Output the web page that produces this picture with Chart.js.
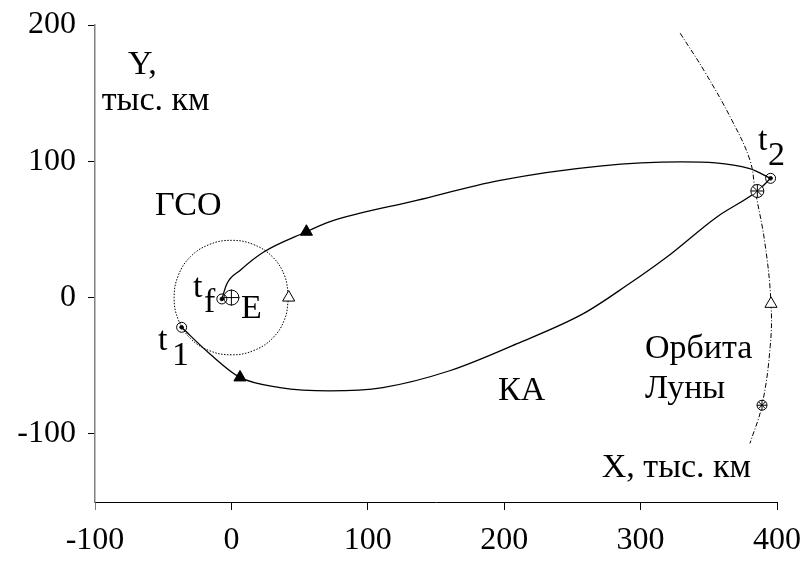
<!DOCTYPE html>
<html><head><meta charset="utf-8">
<script src="https://cdn.jsdelivr.net/npm/chart.js@4/dist/chart.umd.min.js"></script>
<style>html,body{margin:0;padding:0;background:#fff}#wrap{width:804px;height:561px}</style>
</head><body><div id="wrap"><canvas id="c" width="804" height="561"></canvas></div>
<script>
// ---- data (thousand km) ----
const xTicks = [-100, 0, 100, 200, 300, 400];
const yTicks = [-100, 0, 100, 200];

// spacecraft (КА) trajectory: t1 -> t2 (lower branch)
const lowerX = [-36.5, -15.7, 6.3, 35.6, 72, 111, 160, 209, 258, 290, 319, 355.7, 385.6, 395.3];
const lowerY = [-21.8, -41.4, -58.6, -66, -68.4, -66, -53.7, -34, -11.8, 9, 29.6, 59, 78.2, 87.5];
// t2 -> tf (upper branch)
const upperX = [395.3, 380, 330, 270, 197, 135.8, 72.3, 55, 23.4, 6.3, -3.4, -7];
const upperY = [87.5, 94.6, 99.5, 96.5, 86, 71.3, 55.7, 48.3, 33.3, 19.9, 10, -1];

// geostationary orbit (ГСО)
const gsoX = [42, 39, 30, 16, 0, -16, -30, -39, -42, -39, -30, -16, 0, 16, 30, 39, 42];
const gsoY = [0, 16, 30, 39, 42, 39, 30, 16, 0, -16, -30, -39, -42, -39, -30, -16, 0];

// Moon orbit (Орбита Луны)
const moonOrbitX = [329, 347, 367, 380.2, 384, 391.2, 395.6, 395, 389, 380.2];
const moonOrbitY = [194, 165.7, 130, 100.7, 78.7, 39.5, -4.6, -36, -79, -107];

// markers
const keyPtsX = [-36.5, 395.3, -7];      // t1, t2, tf
const keyPtsY = [-21.8, 87.5, -1];
const filledTriX = [55, 6.3];
const filledTriY = [48.3, -58.6];
const openTriX = [42, 395.6];
const openTriY = [0, -4.6];
const moonPosX = [385.6, 389];
const moonPosY = [78.2, -79];
const moonPosR = [6.5, 5];
const earthX = [0];
const earthY = [0];

// text annotations [text, x, y] in data units
const labels = [
  ['Y,', -75.8, 164],
  ['тыс. км', -95.1, 137.6],
  ['ГСО', -56, 60.6],
  ['t', -28.2, 0.4], ['f', -20.1, -10.6],
  ['E', 7, -15],
  ['t', -53.8, -38.4], ['1', -43.5, -49.5],
  ['t', 386.1, 108.3], ['2', 393.4, 97.3],
  ['КА', 195.5, -75.1],
  ['Орбита', 303.2, -44.3],
  ['Луны', 303.2, -73.7],
  ['X, тыс. км', 271.5, -131.9]
];

const zip = (xs, ys) => xs.map((x, i) => ({x, y: ys[i]}));
const FONT = "'Liberation Serif', 'Times New Roman', serif";

const textPlugin = {
  id: 'texts',
  afterDraw(chart) {
    const ctx = chart.ctx, sx = chart.scales.x, sy = chart.scales.y;
    ctx.save();
    ctx.fillStyle = '#000';
    ctx.font = '34px ' + FONT;
    ctx.textAlign = 'left';
    ctx.textBaseline = 'alphabetic';
    labels.forEach(([t, x, y]) => ctx.fillText(t, sx.getPixelForValue(x), sy.getPixelForValue(y)));
    ctx.restore();
  }
};

const line = (data, extra) => Object.assign({
  data, showLine: true, pointRadius: 0, borderColor: '#000', borderWidth: 1.3,
  fill: false
}, extra);
const pts = (data, extra) => Object.assign({
  data, showLine: false, borderColor: '#000', borderWidth: 1, pointBorderColor: '#000'
}, extra);

new Chart(document.getElementById('c'), {
  type: 'scatter',
  data: {
    datasets: [
      pts(zip(keyPtsX, keyPtsY), {pointStyle: 'circle', pointRadius: 1.8, pointBackgroundColor: '#000', order: 0}),
      pts(zip(keyPtsX, keyPtsY), {pointStyle: 'circle', pointRadius: 5, pointBackgroundColor: 'rgba(0,0,0,0)', order: 1}),
      pts(zip(earthX, earthY), {pointStyle: 'cross', pointRadius: 8, pointBackgroundColor: 'rgba(0,0,0,0)', order: 1}),
      pts(zip(earthX, earthY), {pointStyle: 'circle', pointRadius: 7.5, pointBackgroundColor: '#fff', order: 2}),
      pts(zip(moonPosX, moonPosY), {pointStyle: 'star', pointRadius: moonPosR, pointBackgroundColor: 'rgba(0,0,0,0)', order: 1}),
      pts(zip(moonPosX, moonPosY), {pointStyle: 'circle', pointRadius: moonPosR, pointBackgroundColor: '#fff', order: 2}),
      pts(zip(filledTriX, filledTriY), {pointStyle: 'triangle', pointRadius: 7, pointBackgroundColor: '#000', order: 1}),
      pts(zip(openTriX, openTriY), {pointStyle: 'triangle', pointRadius: 7, pointBackgroundColor: '#fff', order: 1}),
      line(zip(lowerX, lowerY), {cubicInterpolationMode: 'monotone', order: 5}),
      line(zip(upperX, upperY), {cubicInterpolationMode: 'monotone', order: 5}),
      line(zip(gsoX, gsoY), {tension: 0.4, borderWidth: 1, borderDash: [1.5, 1.5], order: 6}),
      line(zip(moonOrbitX, moonOrbitY), {tension: 0.4, borderWidth: 1, borderDash: [5, 2, 1, 2], order: 6})
    ]
  },
  options: {
    responsive: false,
    animation: false,
    clip: false,
    layout: {padding: {top: 25, right: 27, left: 0, bottom: 0}},
    plugins: {legend: {display: false}, tooltip: {enabled: false}},
    scales: {
      x: {
        type: 'linear', min: -100, max: 400,
        afterBuildTicks: s => { s.ticks = xTicks.map(v => ({value: v})); },
        afterFit: s => { s.height = 59; s.paddingLeft = 0; s.paddingRight = 0; s.paddingTop = 0; s.paddingBottom = 0; },
        border: {display: true, color: '#000', width: 1},
        grid: {drawOnChartArea: false, drawTicks: true, tickLength: 8,
               color: c => c.index === 0 ? '#808080' : '#000', lineWidth: 1},
        ticks: {color: '#000', font: {family: FONT, size: 32}, padding: 11, maxRotation: 0, autoSkip: false}
      },
      y: {
        type: 'linear', min: -150, max: 200,
        afterBuildTicks: s => { s.ticks = yTicks.map(v => ({value: v})); },
        afterFit: s => { s.width = 95; s.paddingLeft = 0; s.paddingRight = 0; s.paddingTop = 0; s.paddingBottom = 0; },
        border: {display: true, color: '#808080', width: 1.5},
        grid: {drawOnChartArea: false, drawTicks: true, tickLength: 7, color: '#000', lineWidth: 1},
        ticks: {color: '#000', font: {family: FONT, size: 32}, padding: 12, autoSkip: false}
      }
    }
  },
  plugins: [textPlugin]
});
</script>
</body></html>
